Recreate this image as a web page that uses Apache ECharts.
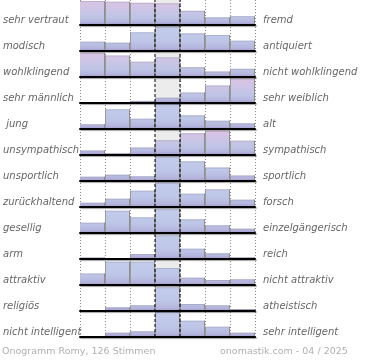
<!DOCTYPE html>
<html>
<head>
<meta charset="utf-8">
<script src="https://cdn.jsdelivr.net/npm/echarts@6/dist/echarts.min.js"></script>
<style>
html,body{margin:0;padding:0;background:#fff;}
#chart{width:370px;height:360px;}
</style>
</head>
<body>
<div id="chart"></div>
<script>
// ---- data ----
const bins = ['1', '2', '3', '4', '5', '6', '7'];
const leftLabels = ['sehr vertraut', 'modisch', 'wohlklingend', 'sehr männlich', ' jung', 'unsympathisch',
  'unsportlich', 'zurückhaltend', 'gesellig', 'arm', 'attraktiv', 'religiös', 'nicht intelligent'];
const rightLabels = ['fremd', 'antiquiert', 'nicht wohlklingend', 'sehr weiblich', 'alt', 'sympathisch',
  'sportlich', 'forsch', 'einzelgängerisch', 'reich', 'nicht attraktiv', 'atheistisch', 'sehr intelligent'];
const rowVertraut = [24, 23.3, 22.2, 21.7, 14.2, 7.7, 8.8];
const rowModisch = [9.3, 8.3, 18.7, 24.3, 17.7, 16, 10.3];
const rowWohlklingend = [24.2, 21.5, 15.3, 19.7, 9.8, 5.5, 8.2];
const rowMaennlich = [0, 0, 2.1, 5.3, 10.5, 17.5, 24.5];
const rowJung = [4.7, 19.7, 10.3, 25, 13.7, 8.3, 5.7];
const rowUnsympathisch = [4.5, 1.8, 7.5, 14.8, 21.8, 24.2, 14.3];
const rowUnsportlich = [4.3, 6.3, 4.7, 24.3, 19.7, 13.5, 5.5];
const rowZurueckhaltend = [4.3, 8.3, 16.3, 24.3, 13.3, 17.7, 7.3];
const rowGesellig = [10.3, 22.3, 15.7, 23.7, 13.7, 7.7, 4.3];
const rowArm = [1.5, 0, 5, 23.7, 10.3, 5.7, 1.7];
const rowAttraktiv = [11.5, 23.3, 23.3, 17, 7.3, 5, 5.7];
const rowReligioes = [0, 3.7, 5.7, 23.7, 7, 5.7, 2];
const rowIntelligent = [0.4, 4.3, 5.7, 25, 16.3, 10.3, 4.3];
const rowValues = [rowVertraut, rowModisch, rowWohlklingend, rowMaennlich, rowJung, rowUnsympathisch,
  rowUnsportlich, rowZurueckhaltend, rowGesellig, rowArm, rowAttraktiv, rowReligioes, rowIntelligent];
// colour tint per row (1 = pinkish top, 0 = bluish)
const rowTint = [1, 0, 1, 1, 0, 1, 0, 0, 0, 0, 0, 0, 0];
const footerLeft = 'Onogramm Romy, 126 Stimmen';
const footerRight = 'onomastik.com - 04 / 2025';

// ---- layout ----
const PLOT_LEFT = 80, PLOT_W = 175, ROW_H = 26, BAR_H = 25, MAXV = 25;
const FONT = 'DejaVu Sans';
const nRows = rowValues.length;

const grids = [], xAxes = [], yAxes = [], series = [];

// grid 0: vertical dotted grid lines + dashed middle lines
grids.push({left: PLOT_LEFT, width: PLOT_W, top: 0, height: ROW_H * (nRows - 1) + BAR_H});
xAxes.push({gridIndex: 0, type: 'value', min: 0, max: 7, interval: 1,
  axisLine: {show: false}, axisTick: {show: false}, axisLabel: {show: false},
  splitLine: {show: true, lineStyle: {color: '#8a8a8a', width: 1, type: [1, 2]}}});
yAxes.push({gridIndex: 0, type: 'value', min: 0, max: 1, show: false, splitLine: {show: false}});
[3, 4].forEach(function (xv) {
  series.push({type: 'line', xAxisIndex: 0, yAxisIndex: 0, data: [[xv, 0], [xv, 1]],
    symbol: 'none', silent: true, z: 20, animation: false,
    lineStyle: {color: '#000', width: 1, type: [3, 2]}});
});

// grid 1: labels
grids.push({left: PLOT_LEFT, width: PLOT_W, top: 7, height: ROW_H * nRows});
xAxes.push({gridIndex: 1, type: 'value', show: false});
yAxes.push({gridIndex: 1, type: 'category', inverse: true, data: leftLabels, position: 'left',
  axisLine: {show: false}, axisTick: {show: false}, splitLine: {show: false},
  axisLabel: {align: 'left', margin: PLOT_LEFT, color: '#666', fontSize: 10, fontStyle: 'italic', fontFamily: FONT}});
yAxes.push({gridIndex: 1, type: 'category', inverse: true, data: rightLabels, position: 'right',
  axisLine: {show: false}, axisTick: {show: false}, splitLine: {show: false},
  axisLabel: {align: 'left', margin: 8, color: '#666', fontSize: 10, fontStyle: 'italic', fontFamily: FONT}});

function gradientFor(r, topPx, basePx) {
  const stops = rowTint[r] ?
    [{offset: 0, color: '#dec3e4'}, {offset: 0.35, color: '#cdc5e6'}, {offset: 0.7, color: '#bec4e5'},
     {offset: 0.88, color: '#b5b6de'}, {offset: 1, color: '#a497cc'}] :
    [{offset: 0, color: '#c3cdeb'}, {offset: 0.6, color: '#bec6e7'},
     {offset: 0.88, color: '#b5b6de'}, {offset: 1, color: '#a497cc'}];
  return {type: 'linear', x: 0, y: topPx, x2: 0, y2: basePx, global: true, colorStops: stops};
}

for (let r = 0; r < nRows; r++) {
  const gi = grids.length;
  grids.push({left: PLOT_LEFT, width: PLOT_W, top: ROW_H * r, height: BAR_H});
  xAxes.push({gridIndex: gi, type: 'category', data: bins, boundaryGap: true,
    axisLine: {show: true, onZero: false, lineStyle: {color: '#000', width: 2,
      shadowColor: 'rgba(0,0,0,0.35)', shadowBlur: 1, shadowOffsetY: 1, shadowOffsetX: 1}},
    axisTick: {show: false}, axisLabel: {show: false}, splitLine: {show: false}, z: 15});
  yAxes.push({gridIndex: gi, type: 'value', min: 0, max: MAXV, show: false, splitLine: {show: false}});
  const row = r;
  series.push({
    type: 'custom', xAxisIndex: gi, yAxisIndex: gi + 1, z: 5, silent: true, animation: false,
    data: rowValues[r].map(function (v, i) { return [i, v]; }),
    renderItem: function (params, api) {
      const i = api.value(0), h = api.value(1);
      const base = api.coord([i, 0]);
      const top = api.coord([i, h]);
      const full = api.coord([i, MAXV]);
      const w = api.size([1, 0])[0];
      const x0 = base[0] - w / 2, x1 = base[0] + w / 2;
      const children = [];
      if (i === 3) {
        children.push({type: 'rect', shape: {x: x0, y: full[1], width: w, height: base[1] - full[1]},
          style: {fill: '#ececec'}});
      }
      if (h > 0) {
        children.push({type: 'rect', shape: {x: x0, y: top[1], width: w, height: base[1] - top[1]},
          style: {fill: gradientFor(row, full[1], base[1])}});
        children.push({type: 'line', shape: {x1: x0, y1: top[1] + 0.5, x2: x1, y2: top[1] + 0.5},
          style: {stroke: 'rgba(150,150,170,0.45)', lineWidth: 1}});
        children.push({type: 'line', shape: {x1: x1 - 0.5, y1: top[1], x2: x1 - 0.5, y2: base[1]},
          style: {stroke: '#8e8e8e', lineWidth: 1}});
        if (i > 0) {
          children.push({type: 'line', shape: {x1: x0 + 0.5, y1: top[1], x2: x0 + 0.5, y2: base[1]},
            style: {stroke: '#9a9a9a', lineWidth: 1}});
        }
      }
      return {type: 'group', children: children};
    }
  });
}

const chart = echarts.init(document.getElementById('chart'), null, {renderer: 'canvas'});
chart.setOption({
  animation: false,
  backgroundColor: '#fff',
  title: [
    {text: footerLeft, left: 2, top: 347, padding: 0,
      textStyle: {fontSize: 9.5, fontWeight: 'normal', color: '#b0b0b0', fontFamily: FONT}},
    {text: footerRight, left: 220, top: 347, padding: 0,
      textStyle: {fontSize: 9.5, fontWeight: 'normal', color: '#b0b0b0', fontFamily: FONT}}
  ],
  grid: grids,
  xAxis: xAxes,
  yAxis: yAxes,
  series: series
});
</script>
</body>
</html>
